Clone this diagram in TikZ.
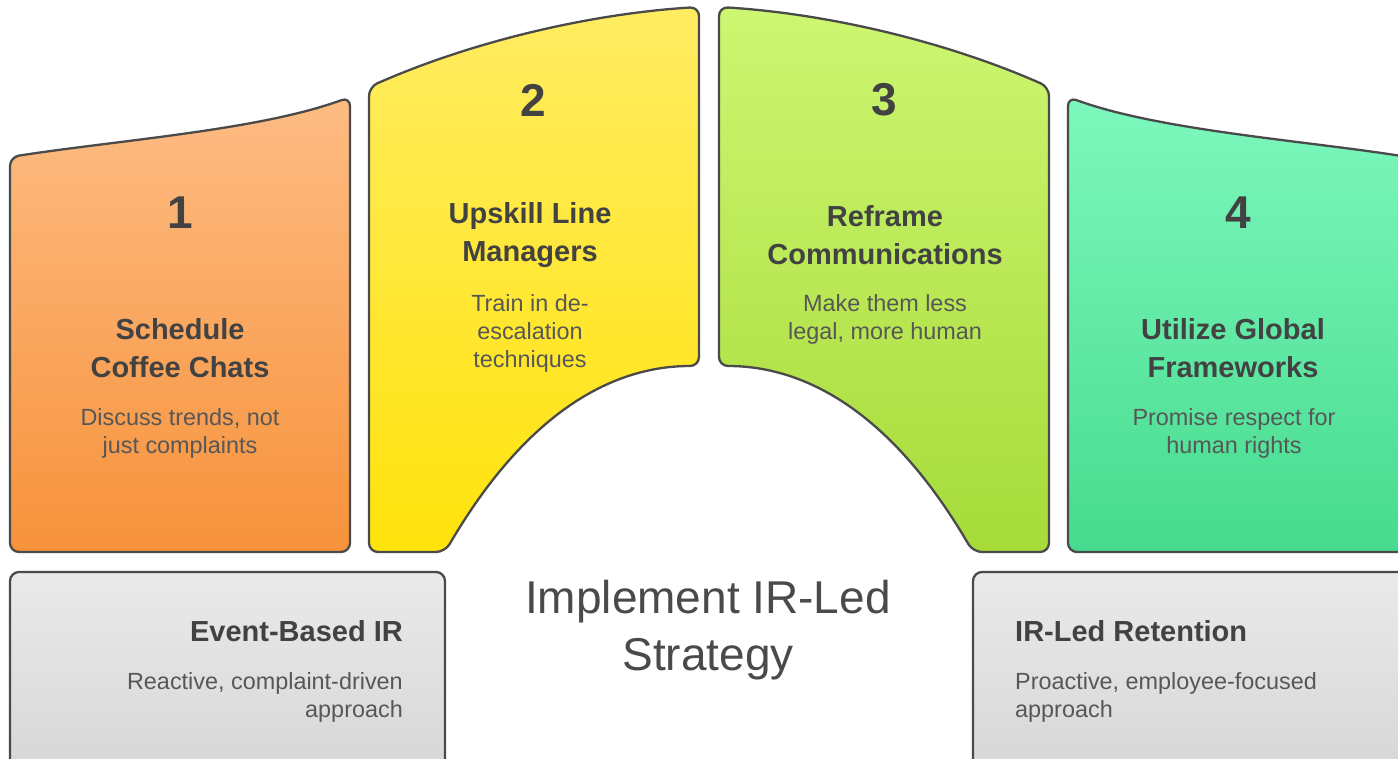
\documentclass[tikz,border=0pt]{standalone}
\usepackage{fontspec}
\setmainfont{Liberation Sans}
\usetikzlibrary{calc}

\definecolor{edge}{HTML}{4A4A4A}
\definecolor{ink}{HTML}{424242}
\definecolor{soft}{HTML}{575757}
\definecolor{orangeTop}{HTML}{FDBC84}
\definecolor{orangeBot}{HTML}{F7923B}
\definecolor{yellowTop}{HTML}{FFEC62}
\definecolor{yellowBot}{HTML}{FFE30C}
\definecolor{limeTop}{HTML}{CEF672}
\definecolor{limeBot}{HTML}{A6DB39}
\definecolor{mintTop}{HTML}{7EF8BD}
\definecolor{mintBot}{HTML}{46DB8E}
\definecolor{greyTop}{HTML}{EAEAEA}
\definecolor{greyBot}{HTML}{D6D6D6}

\tikzset{
    panel/.style={draw=edge, line width=2.3pt, rounded corners=9pt},
    num/.style={font=\fontsize{46}{50}\selectfont\bfseries, text=ink, inner sep=0pt},
    head/.style={font=\fontsize{29}{38}\selectfont\bfseries, text=ink, align=center, inner sep=0pt},
    body/.style={font=\fontsize{23.4}{28}\selectfont, text=soft, align=center, inner sep=0pt},
}

\begin{document}
\begin{tikzpicture}[x=1pt, y=-1pt]
    \useasboundingbox (0,0) rectangle (1398,759);
    \clip (0,0) rectangle (1398,759);

    \draw[panel, top color=orangeTop, bottom color=orangeBot]
        (10,552) -- (10,157) .. controls (120,140) and (260,130) .. (350,97) -- (350,552) -- cycle;
    \draw[panel, top color=yellowTop, bottom color=yellowBot]
        (369,552) -- (369,87) .. controls (480,38) and (600,13) .. (699,7) -- (699,366)
        .. controls (610,366) and (525,415) .. (445,552) -- cycle;
    \draw[panel, top color=limeTop, bottom color=limeBot]
        (1049,552) -- (1049,87) .. controls (938,38) and (818,13) .. (719,7) -- (719,366)
        .. controls (808,366) and (893,415) .. (973,552) -- cycle;
    \draw[panel, top color=mintTop, bottom color=mintBot]
        (1408,552) -- (1408,157) .. controls (1298,140) and (1158,130) .. (1068,97) -- (1068,552) -- cycle;

    \draw[panel, top color=greyTop, bottom color=greyBot] (10,572) rectangle (445,780);
    \draw[panel, top color=greyTop, bottom color=greyBot] (973,572) rectangle (1420,780);

    \node[num] (n1) at (180,213) {1};
    \node[head] (h1) at (180,348) {Schedule\\Coffee Chats};
    \node[body] (b1) at (180,433) {Discuss trends, not\\just complaints};

    \node[num] (n2) at (533,100) {2};
    \node[head] (h2) at (530,235) {Upskill Line\\Managers};
    \node[body] (b2) at (530,333) {Train in de-\\escalation\\techniques};

    \node[num] (n3) at (884,100) {3};
    \node[head] (h3) at (885,235) {Reframe\\Communications};
    \node[body] (b3) at (885,319) {Make them less\\legal, more human};

    \node[num] (n4) at (1238,213) {4};
    \node[head] (h4) at (1233,348) {Utilize Global\\Frameworks};
    \node[body] (b4) at (1234,433) {Promise respect for\\human rights};

    \node[font=\fontsize{46}{57}\selectfont, text=edge, align=center, inner sep=0pt] (goal) at (708,630) {Implement IR-Led\\Strategy};

    \node[head, anchor=east, align=right] (eb) at (403,631) {Event-Based IR};
    \node[body, anchor=east, align=right] (ebd) at (403,697) {Reactive, complaint-driven\\approach};
    \node[head, anchor=west, align=left] (irl) at (1015,631) {IR-Led Retention};
    \node[body, anchor=west, align=left] (irld) at (1015,697) {Proactive, employee-focused\\approach};
\end{tikzpicture}
\end{document}
